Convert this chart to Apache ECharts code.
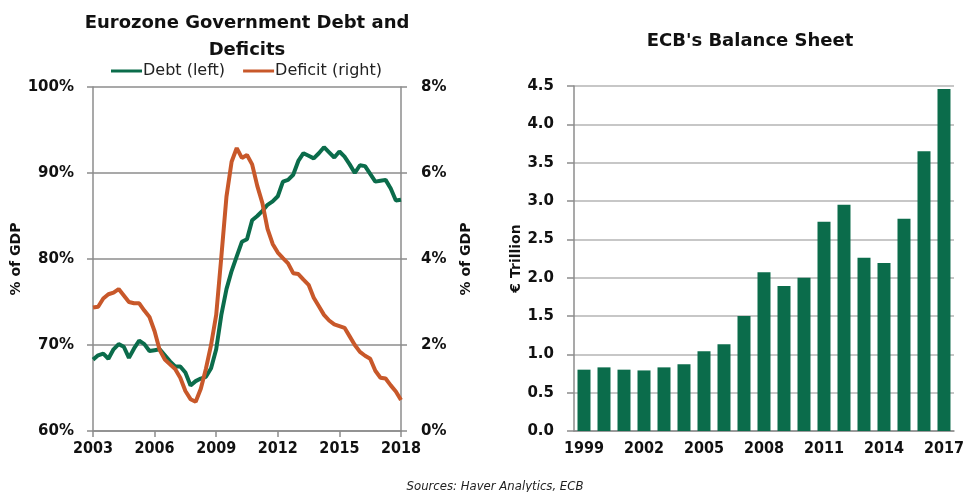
<!DOCTYPE html>
<html>
<head>
<meta charset="utf-8">
<script src="https://cdn.jsdelivr.net/npm/echarts@6/dist/echarts.min.js"></script>
<style>
  html, body { margin: 0; padding: 0; background: #fff; }
  #main { width: 967px; height: 492px; }
</style>
</head>
<body>
<div id="main"></div>
<script>
// left chart: quarterly, 2003Q1 .. 2018Q1
var debt = [
  68.3, 68.8, 69.0, 68.4, 69.5, 70.1, 69.8, 68.5, 69.6, 70.5,
  70.1, 69.3, 69.4, 69.5, 68.8, 68.1, 67.5, 67.5, 66.8, 65.3,
  65.8, 66.1, 66.3, 67.3, 69.5, 73.5, 76.5, 78.6, 80.3, 82.0,
  82.3, 84.5, 85.0, 85.6, 86.3, 86.7, 87.3, 89.0, 89.2, 89.8,
  91.4, 92.3, 92.0, 91.7, 92.3, 93.0, 92.4, 91.8, 92.5, 91.9,
  91.0, 90.0, 90.9, 90.8, 89.9, 89.0, 89.1, 89.2, 88.2, 86.8,
  86.9
];
var deficit = [
  2.87, 2.89, 3.08, 3.18, 3.22, 3.30, 3.15, 3.00, 2.97, 2.97,
  2.80, 2.65, 2.32, 1.88, 1.66, 1.55, 1.44, 1.24, 0.93, 0.74,
  0.68, 0.98, 1.45, 2.00, 2.70, 4.05, 5.45, 6.26, 6.58, 6.35,
  6.42, 6.20, 5.70, 5.30, 4.70, 4.35, 4.15, 4.02, 3.90, 3.67,
  3.65, 3.52, 3.40, 3.10, 2.90, 2.70, 2.57, 2.48, 2.44, 2.40,
  2.20, 2.00, 1.84, 1.75, 1.68, 1.40, 1.24, 1.22, 1.06, 0.92,
  0.72
];
var quarters = [];
for (var y = 2003; y <= 2018; y++) {
  for (var q = 1; q <= 4; q++) {
    if (quarters.length < debt.length) quarters.push(y + 'Q' + q);
  }
}

// right chart: ECB balance sheet, € trillion
var years = ['1999','2000','2001','2002','2003','2004','2005','2006','2007','2008',
             '2009','2010','2011','2012','2013','2014','2015','2016','2017'];
var balance = [0.80, 0.83, 0.80, 0.79, 0.83, 0.87, 1.04, 1.13, 1.50, 2.07,
               1.89, 2.00, 2.73, 2.95, 2.26, 2.19, 2.77, 3.65, 4.46];

var green = '#0b6c4b';
var orange = '#c8582a';
var labelFont = 'DejaVu Sans';
var narrowFont = '"Liberation Sans Narrow", "DejaVu Sans Condensed", sans-serif';

var chart = echarts.init(document.getElementById('main'));

var option = {
  animation: false,
  backgroundColor: '#fff',
  title: [{
    text: 'Eurozone Government Debt and\nDeficits',
    left: 242,
    top: 5,
    textAlign: 'center',
    textStyle: { fontFamily: labelFont, fontWeight: 'bold', fontSize: 18, color: '#111', lineHeight: 27 }
  }, {
    text: "ECB's Balance Sheet",
    left: 745,
    top: 27,
    textAlign: 'center',
    textStyle: { fontFamily: labelFont, fontWeight: 'bold', fontSize: 18, color: '#111' }
  }, {
    text: 'Sources: Haver Analytics, ECB',
    left: 490,
    top: 475,
    textAlign: 'center',
    textStyle: { fontFamily: narrowFont, fontStyle: 'italic', fontWeight: 'normal', fontSize: 13, color: '#222' }
  }],
  legend: {
    left: 106,
    top: 58,
    itemGap: 18,
    itemWidth: 31,
    itemHeight: 3,
    icon: 'rect',
    textStyle: { fontFamily: labelFont, fontSize: 16, color: '#222', padding: [0, 0, 0, -4] },
    data: ['Debt (left)', 'Deficit (right)']
  },
  grid: [
    { left: 93, right: 566, top: 87, bottom: 61 },
    { left: 574, right: 12, top: 86, bottom: 61 }
  ],
  xAxis: [{
    gridIndex: 0,
    type: 'category',
    data: quarters,
    boundaryGap: false,
    axisLine: { lineStyle: { color: '#8c8c8c', width: 1.5 } },
    axisTick: { interval: 11, length: 6, lineStyle: { color: '#8c8c8c', width: 1.5 } },
    axisLabel: {
      interval: 11,
      margin: 10,
      fontFamily: narrowFont,
      fontWeight: 'bold',
      fontSize: 16,
      color: '#111',
      formatter: function (v) { return v.slice(0, 4); }
    },
    splitLine: { show: false }
  }, {
    gridIndex: 1,
    type: 'category',
    data: years,
    axisLine: { lineStyle: { color: '#8c8c8c', width: 1.5 } },
    axisTick: { interval: 0, length: 6, lineStyle: { color: '#8c8c8c', width: 1.5 } },
    axisLabel: {
      interval: 2,
      margin: 10,
      fontFamily: narrowFont,
      fontWeight: 'bold',
      fontSize: 16,
      color: '#111'
    },
    splitLine: { show: false }
  }],
  yAxis: [{
    gridIndex: 0,
    type: 'value',
    min: 60,
    max: 100,
    interval: 10,
    name: '% of GDP',
    nameLocation: 'middle',
    nameGap: 59,
    nameTextStyle: { fontFamily: labelFont, fontWeight: 'bold', fontSize: 14, color: '#111' },
    axisLine: { show: true, lineStyle: { color: '#8c8c8c', width: 1.5 } },
    axisTick: { show: true, length: 6, lineStyle: { color: '#8c8c8c', width: 1.5 } },
    axisLabel: {
      margin: 19,
      fontFamily: labelFont,
      fontWeight: 'bold',
      fontSize: 15,
      color: '#111',
      formatter: '{value}%'
    },
    splitLine: { show: true, lineStyle: { color: '#8c8c8c', width: 1.5 } }
  }, {
    gridIndex: 0,
    type: 'value',
    position: 'right',
    min: 0,
    max: 8,
    interval: 2,
    name: '% of GDP',
    nameLocation: 'middle',
    nameGap: 58,
    nameRotate: 90,
    nameTextStyle: { fontFamily: labelFont, fontWeight: 'bold', fontSize: 14, color: '#111' },
    axisLine: { show: true, lineStyle: { color: '#8c8c8c', width: 1.5 } },
    axisTick: { show: true, length: 6, lineStyle: { color: '#8c8c8c', width: 1.5 } },
    axisLabel: {
      margin: 20,
      fontFamily: labelFont,
      fontWeight: 'bold',
      fontSize: 15,
      color: '#111',
      formatter: '{value}%'
    },
    splitLine: { show: false }
  }, {
    gridIndex: 1,
    type: 'value',
    min: 0,
    max: 4.5,
    interval: 0.5,
    name: '€ Trillion',
    nameLocation: 'middle',
    nameGap: 48,
    nameTextStyle: { fontFamily: labelFont, fontWeight: 'bold', fontSize: 14, color: '#111' },
    axisLine: { show: true, lineStyle: { color: '#8c8c8c', width: 1.5 } },
    axisTick: { show: true, length: 7, lineStyle: { color: '#8c8c8c', width: 1.5 } },
    axisLabel: {
      margin: 20,
      fontFamily: labelFont,
      fontWeight: 'bold',
      fontSize: 15,
      color: '#111',
      formatter: function (v) { return v.toFixed(1); }
    },
    splitLine: { show: true, lineStyle: { color: '#b4b4b4', width: 1.5 } }
  }],
  series: [{
    name: 'Debt (left)',
    type: 'line',
    xAxisIndex: 0,
    yAxisIndex: 0,
    data: debt,
    showSymbol: false,
    itemStyle: { color: green },
    lineStyle: { color: green, width: 4 },
    z: 3
  }, {
    name: 'Deficit (right)',
    type: 'line',
    xAxisIndex: 0,
    yAxisIndex: 1,
    data: deficit,
    showSymbol: false,
    itemStyle: { color: orange },
    lineStyle: { color: orange, width: 4 },
    z: 4
  }, {
    name: 'ECB balance sheet',
    type: 'bar',
    xAxisIndex: 1,
    yAxisIndex: 2,
    data: balance,
    barWidth: 13,
    itemStyle: { color: green }
  }]
};

chart.setOption(option);
</script>
</body>
</html>
